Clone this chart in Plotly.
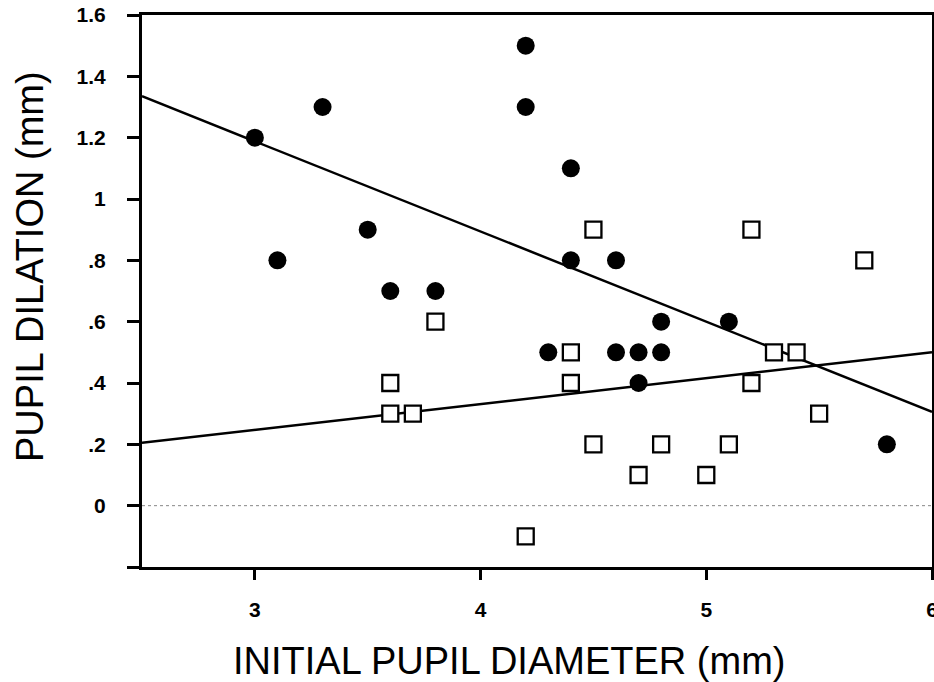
import plotly.graph_objects as go

# filled circles
filled_x = [3.0, 3.1, 3.3, 3.5, 3.6, 3.8, 4.2, 4.2, 4.4, 4.4, 4.6, 4.3, 4.6, 4.7, 4.8, 4.7, 4.8, 5.1, 5.8]
filled_y = [1.2, 0.8, 1.3, 0.9, 0.7, 0.7, 1.5, 1.3, 1.1, 0.8, 0.8, 0.5, 0.5, 0.5, 0.5, 0.4, 0.6, 0.6, 0.2]

# open squares
open_x = [3.6, 3.6, 3.7, 3.8, 4.2, 4.4, 4.4, 4.5, 4.5, 4.7, 4.8, 5.0, 5.1, 5.2, 5.2, 5.3, 5.4, 5.5, 5.7]
open_y = [0.4, 0.3, 0.3, 0.6, -0.1, 0.5, 0.4, 0.9, 0.2, 0.1, 0.2, 0.1, 0.2, 0.9, 0.4, 0.5, 0.5, 0.3, 0.8]

# regression lines (end values)
fit_x = [2.5, 6.0]
fit_filled_y = [1.335, 0.306]
fit_open_y = [0.205, 0.50]

x_ticks = [3, 4, 5, 6]
y_ticks = [-0.2, 0, 0.2, 0.4, 0.6, 0.8, 1.0, 1.2, 1.4, 1.6]
y_ticktext = ["", "0", ".2", ".4", ".6", ".8", "1", "1.2", "1.4", "1.6"]

FONT = "Arial, Liberation Sans, sans-serif"

fig = go.Figure()

fig.add_trace(go.Scatter(x=fit_x, y=fit_filled_y, mode="lines",
                         line=dict(color="black", width=2.5), hoverinfo="skip"))
fig.add_trace(go.Scatter(x=fit_x, y=fit_open_y, mode="lines",
                         line=dict(color="black", width=2.5), hoverinfo="skip"))
fig.add_trace(go.Scatter(x=filled_x, y=filled_y, mode="markers",
                         marker=dict(symbol="circle", size=18, color="black",
                                     line=dict(width=0))))
fig.add_trace(go.Scatter(x=open_x, y=open_y, mode="markers",
                         marker=dict(symbol="square", size=16, color="white",
                                     line=dict(color="black", width=2.3))))

# thin dotted zero line
fig.add_shape(type="line", xref="x domain", yref="y", x0=0, x1=1, y0=0, y1=0,
              line=dict(color="#888888", width=1, dash="dot"), layer="below")

fig.add_annotation(text="INITIAL PUPIL DIAMETER (mm)", xref="paper", yref="paper",
                   x=0.465, y=-0.17, xanchor="center", yanchor="middle",
                   showarrow=False, font=dict(family=FONT, size=38, color="black"))
fig.add_annotation(text="PUPIL DILATION (mm)", xref="paper", yref="paper",
                   x=-0.142, y=0.545, xanchor="center", yanchor="middle",
                   textangle=-90, showarrow=False,
                   font=dict(family=FONT, size=38, color="black"))

fig.update_xaxes(range=[2.5, 6], tickvals=x_ticks, ticks="outside", ticklen=10,
                 tickwidth=2.5, tickcolor="black", showline=True, linewidth=3,
                 linecolor="black", mirror=True, showgrid=False, zeroline=False,
                 ticklabelstandoff=12, automargin=False, ticklabeloverflow="allow",
                 tickfont=dict(family=FONT, size=21, color="black", weight="bold"))
fig.update_yaxes(range=[-0.2, 1.6], tickvals=y_ticks, ticktext=y_ticktext,
                 ticks="outside", ticklen=12, tickwidth=2.5, tickcolor="black",
                 showline=True, linewidth=3, linecolor="black", mirror=True,
                 showgrid=False, zeroline=False, ticklabelstandoff=17, automargin=False,
                 tickfont=dict(family=FONT, size=21, color="black", weight="bold"))

fig.update_layout(
    width=934, height=682,
    margin=dict(l=142, r=2, t=15, b=115),
    plot_bgcolor="white", paper_bgcolor="white",
    showlegend=False,
)

fig.write_html("out.html", config={"displayModeBar": False},
               post_script="document.body.style.margin='0';document.body.style.overflow='hidden';")
